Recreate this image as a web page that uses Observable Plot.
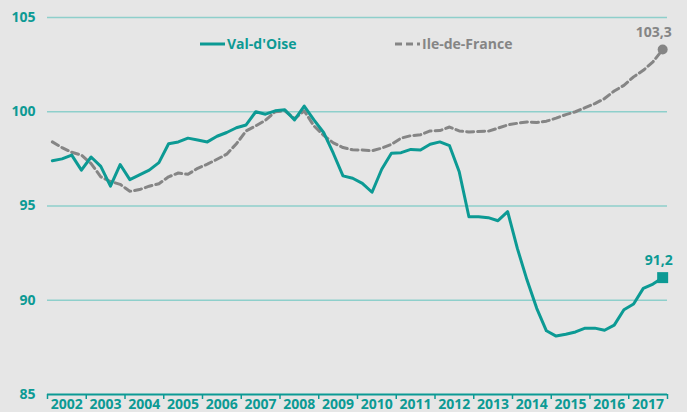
<!DOCTYPE html>
<html><head><meta charset="utf-8">
<script src="https://cdn.jsdelivr.net/npm/d3@7"></script>
<script src="https://cdn.jsdelivr.net/npm/@observablehq/plot@0.6"></script>
<style>
html,body{margin:0;padding:0;background:#e6e6e6;}
#wrap{position:relative;width:687px;height:412px;font-family:"Open Sans",sans-serif;}
.leg{position:absolute;top:34px;display:flex;align-items:center;font-weight:700;font-size:14px;line-height:20px;}
.leg svg{margin-right:2px;}
</style></head><body><div id="wrap"></div>
<script>
const startYear = 2002;
const seriesNames = ["Val-d'Oise", "Ile-de-France"];
const valDOise = [
  97.4, 97.5, 97.7, 96.9, 97.6, 97.1, 96.05, 97.2,
  96.4, 96.65, 96.9, 97.3, 98.3, 98.4, 98.6, 98.5,
  98.4, 98.7, 98.9, 99.15, 99.3, 100.0, 99.87, 100.05,
  100.1, 99.57, 100.3, 99.57, 98.9, 97.8, 96.6, 96.47,
  96.2, 95.73, 96.95, 97.8, 97.83, 98.0, 97.97, 98.28,
  98.4, 98.2, 96.82, 94.43, 94.43, 94.38, 94.22, 94.7,
  92.75, 91.07, 89.57, 88.38, 88.1, 88.2, 88.32, 88.52,
  88.52, 88.41, 88.68, 89.5, 89.8, 90.63, 90.86, 91.2
];
const ileDeFrance = [
  98.4, 98.1, 97.85, 97.7, 97.25, 96.55, 96.3, 96.15,
  95.78, 95.87, 96.05, 96.18, 96.55, 96.75, 96.68, 97.0,
  97.22, 97.48, 97.75, 98.3, 98.98, 99.25, 99.55, 100.0,
  100.05, 99.63, 100.05, 99.25, 98.75, 98.35, 98.1, 97.98,
  97.97, 97.93, 98.07, 98.27, 98.6, 98.73, 98.78, 98.98,
  99.0, 99.19, 98.98, 98.93, 98.95, 98.97, 99.13, 99.3,
  99.39, 99.46, 99.43, 99.5, 99.66, 99.85, 100.0, 100.22,
  100.43, 100.7, 101.1, 101.4, 101.85, 102.2, 102.65, 103.3
];
const yTicks = [85, 90, 95, 100, 105];
const yearLabels = d3.range(2002, 2018);
const endLabels = ["103,3", "91,2"];

const teal = "#0c9a94";
const grey = "#858585";
const gridColor = "#8ecfcb";

const toRows = (vals, name) => vals.map((v, i) => ({t: startYear + (i + 0.5) / 4, v, name}));
const vdo = toRows(valDOise, seriesNames[0]);
const idf = toRows(ileDeFrance, seriesNames[1]);
const lastIdf = [{...idf[idf.length - 1], label: endLabels[0]}];
const lastVdo = [{...vdo[vdo.length - 1], label: endLabels[1]}];

const chart = Plot.plot({
  width: 687, height: 412,
  marginLeft: 47, marginRight: 20, marginTop: 17, marginBottom: 18,
  style: {background: "transparent", fontFamily: "'Open Sans', sans-serif", overflow: "visible"},
  x: {domain: [2002, 2018]},
  y: {domain: [85, 105]},
  marks: [
    Plot.ruleY(yTicks.filter(d => d > 85), {stroke: gridColor, strokeWidth: 1.6}),
    Plot.ruleY([85], {stroke: teal, strokeWidth: 2}),
    Plot.axisY({ticks: yTicks, tickSize: 0, tickPadding: 12, fill: teal, fontWeight: 700, fontSize: 14, label: null}),
    Plot.axisX({ticks: d3.range(2002, 2019), tickSize: 5, tickFormat: () => "", stroke: teal, strokeWidth: 1.5, label: null}),
    Plot.axisX({ticks: yearLabels.map(y => y + 0.5), tickSize: 0, tickPadding: 5, tickFormat: d => String(Math.floor(d)), fill: teal, fontWeight: 700, fontSize: 14, label: null}),
    Plot.line(idf, {x: "t", y: "v", stroke: grey, strokeWidth: 3, strokeDasharray: "7,4"}),
    Plot.line(vdo, {x: "t", y: "v", stroke: teal, strokeWidth: 3}),
    Plot.dot(lastIdf, {x: "t", y: "v", r: 5, fill: grey}),
    Plot.dot(lastVdo, {x: "t", y: "v", r: 6.2, symbol: "square", fill: teal}),
    Plot.text(lastIdf, {x: "t", y: "v", text: "label", fill: grey, fontWeight: 700, fontSize: 14, dx: -9, dy: -17}),
    Plot.text(lastVdo, {x: "t", y: "v", text: "label", fill: teal, fontWeight: 700, fontSize: 14, dx: -4, dy: -17})
  ]
});
const wrap = document.getElementById("wrap");
wrap.appendChild(chart);

const legendItems = [
  {name: seriesNames[0], color: teal, dash: null, left: 200},
  {name: seriesNames[1], color: grey, dash: "7,4", left: 395}
];
for (const it of legendItems) {
  const d = document.createElement("div");
  d.className = "leg";
  d.style.left = it.left + "px";
  d.style.color = it.color;
  d.innerHTML = `<svg width="25" height="6"><line x1="0" x2="25" y1="3" y2="3" stroke="${it.color}" stroke-width="3" ${it.dash ? `stroke-dasharray="${it.dash}"` : ""}/></svg><span>${it.name}</span>`;
  wrap.appendChild(d);
}
</script>
</body></html>
